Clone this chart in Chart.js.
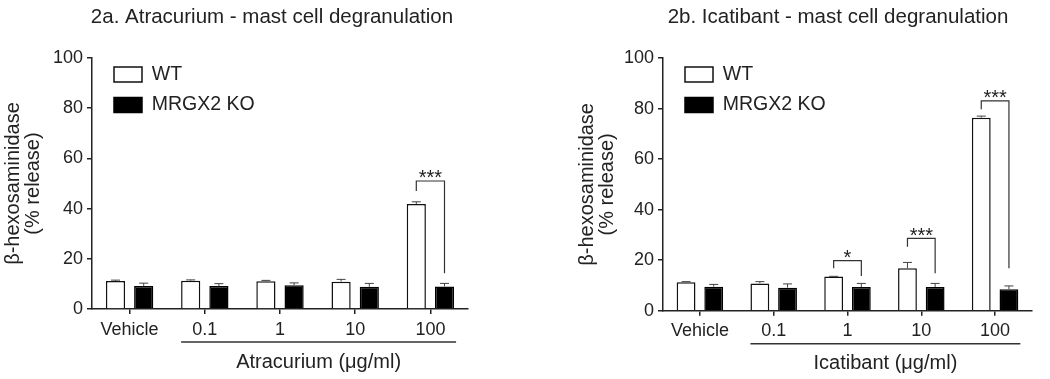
<!DOCTYPE html>
<html><head><meta charset="utf-8">
<script src="https://cdn.jsdelivr.net/npm/chart.js@4.4.1/dist/chart.umd.min.js"></script>
<style>
html,body{margin:0;padding:0;background:#fff;}
#wrap{position:relative;width:1050px;height:379px;overflow:hidden;}
#c1{position:absolute;left:0;top:0;}
#c2{position:absolute;left:520px;top:0;}
</style></head><body>
<div id="wrap">
<canvas id="c1" width="520" height="379"></canvas>
<canvas id="c2" width="530" height="379"></canvas>
</div>
<script>
// ---------- data ----------
const categories = ['Vehicle', '0.1', '1', '10', '100'];
const seriesNames = ['WT', 'MRGX2 KO'];
const yTickStep = 20;
const yMin = 0, yMax = 100;

const atrTitle = '2a. Atracurium - mast cell degranulation';
const atrXTitle = 'Atracurium (\u03BCg/ml)';
const atrWT = [11.2, 11.3, 11.1, 10.9, 41.8];
const atrWTErr = [0.3, 0.3, 0.3, 0.9, 0.9];
const atrKO = [9.2, 9.2, 9.5, 8.9, 9.0];
const atrKOErr = [1.1, 0.9, 0.9, 1.3, 1.2];
const atrSigCat = [4];
const atrSigLevel = [51.0];
const atrSigLeft = [47.0];
const atrSigRight = [14.2];
const atrSigText = ['***'];

const icaTitle = '2b. Icatibant - mast cell degranulation';
const icaXTitle = 'Icatibant (\u03BCg/ml)';
const icaWT = [11.3, 10.8, 13.5, 16.8, 76.4];
const icaWTErr = [0.2, 0.7, 0.1, 2.3, 0.6];
const icaKO = [9.5, 9.1, 9.4, 9.4, 8.5];
const icaKOErr = [0.9, 1.5, 1.4, 1.4, 1.3];
const icaSigCat = [2, 3, 4];
const icaSigLevel = [19.8, 28.6, 83.0];
const icaSigLeft = [16.8, 25.3, 79.7];
const icaSigRight = [13.7, 14.8, 16.8];
const icaSigText = ['*', '***', '***'];

const yTitle = ['\u03B2-hexosaminidase', '(% release)'];

// ---------- styling ----------
const FONT = "'Liberation Sans', Arial, sans-serif";
const INK = '#222';

function makePlugin(p) {
  return {
    id: 'annot',
    afterLayout(chart) {
      const l = chart.legend, a = chart.chartArea;
      if (l) {
        const w = l.width, h = l.height;
        l.left = a.left + 11; l.right = l.left + w;
        l.top = a.top - 4.25; l.bottom = l.top + h;
      }
      const t = chart.titleBlock;
      if (t) { t.left += p.titleShift; t.right += p.titleShift; }
    },
    afterDraw(chart) {
      const ctx = chart.ctx, ys = chart.scales.y, a = chart.chartArea;
      const mWT = chart.getDatasetMeta(0), mKO = chart.getDatasetMeta(1);
      ctx.save();
      // error bars
      [[mWT, p.wt, p.wtErr], [mKO, p.ko, p.koErr]].forEach(([meta, vals, errs]) => {
        meta.data.forEach((bar, i) => {
          const y0 = ys.getPixelForValue(vals[i]);
          const y1 = ys.getPixelForValue(vals[i] + errs[i]);
          ctx.strokeStyle = '#444'; ctx.lineWidth = 1;
          ctx.beginPath();
          ctx.moveTo(bar.x, y0); ctx.lineTo(bar.x, y1);
          ctx.moveTo(bar.x - 4.5, y1); ctx.lineTo(bar.x + 4.5, y1);
          ctx.stroke();
        });
      });
      // significance brackets
      ctx.strokeStyle = '#333'; ctx.lineWidth = 1.2;
      ctx.fillStyle = INK;
      ctx.font = '20px ' + FONT;
      ctx.textAlign = 'center'; ctx.textBaseline = 'alphabetic';
      p.sigCat.forEach((ci, k) => {
        const xL = mWT.data[ci].x, xR = mKO.data[ci].x;
        const yl = ys.getPixelForValue(p.sigLevel[k]);
        ctx.beginPath();
        ctx.moveTo(xL, ys.getPixelForValue(p.sigLeft[k]));
        ctx.lineTo(xL, yl); ctx.lineTo(xR, yl);
        ctx.lineTo(xR, ys.getPixelForValue(p.sigRight[k]));
        ctx.stroke();
        ctx.fillText(p.sigText[k], (xL + xR) / 2, yl + 3.5);
      });
      // group underline
      const b1 = mWT.data[1], b4 = mKO.data[mKO.data.length - 1];
      const ux1 = b1.x - b1.width / 2, ux2 = b4.x + b4.width / 2 + 2;
      const uy = a.bottom + 33;
      ctx.strokeStyle = '#333'; ctx.lineWidth = 1.5;
      ctx.beginPath(); ctx.moveTo(ux1, uy); ctx.lineTo(ux2, uy); ctx.stroke();
      // x title
      ctx.textBaseline = 'middle';
      ctx.fillText(p.xTitle, (ux1 + ux2) / 2, a.bottom + 53);
      ctx.restore();
    }
  };
}

function makeChart(id, p) {
  return new Chart(document.getElementById(id), {
    type: 'bar',
    data: {
      labels: categories,
      datasets: [
        { label: seriesNames[0], data: p.wt, backgroundColor: '#fff', borderColor: '#111', borderWidth: 1.5 },
        { label: seriesNames[1], data: p.ko, backgroundColor: '#000', borderColor: '#000', borderWidth: 1.5 }
      ]
    },
    options: {
      responsive: false,
      animation: false,
      devicePixelRatio: 1,
      categoryPercentage: 0.75,
      barPercentage: 0.68,
      layout: { padding: { left: p.padLeft, right: p.padRight, top: 0, bottom: 0 } },
      plugins: {
        title: {
          display: true, text: p.title, fullSize: false, color: INK,
          font: { family: FONT, size: 20.5, weight: 'normal', lineHeight: 1.2 },
          padding: { top: 5, bottom: 28.4 }
        },
        legend: {
          position: 'chartArea', align: 'start',
          labels: { boxWidth: 28, boxHeight: 15, padding: 11, color: INK,
                    font: { family: FONT, size: 19.5 } }
        },
        tooltip: { enabled: false }
      },
      scales: {
        x: {
          offset: true,
          grid: { offset: false, drawOnChartArea: false, drawTicks: true, tickLength: 5, color: INK, lineWidth: 1.5 },
          border: { color: INK, width: 1.5 },
          ticks: { color: INK, font: { family: FONT, size: 18 }, padding: 5, maxRotation: 0, autoSkip: false },
          afterFit(s) { s.height = p.xHeight; }
        },
        y: {
          min: yMin, max: yMax,
          grid: { drawOnChartArea: false, drawTicks: true, tickLength: 5, color: INK, lineWidth: 1.5 },
          border: { color: INK, width: 1.5 },
          ticks: { stepSize: yTickStep, color: INK, font: { family: FONT, size: 18 }, padding: 4 },
          title: { display: true, text: yTitle, color: INK,
                   font: { family: FONT, size: 20, lineHeight: 1.0 }, padding: { top: 3, bottom: 0 } },
          afterFit(s) { s.width = p.yWidth; }
        }
      }
    },
    plugins: [makePlugin(p)]
  });
}

makeChart('c1', {
  wt: atrWT, wtErr: atrWTErr, ko: atrKO, koErr: atrKOErr,
  sigCat: atrSigCat, sigLevel: atrSigLevel, sigLeft: atrSigLeft, sigRight: atrSigRight, sigText: atrSigText,
  title: atrTitle, xTitle: atrXTitle, titleShift: -8,
  padLeft: 0, padRight: 52, yWidth: 92, xHeight: 70
});
makeChart('c2', {
  wt: icaWT, wtErr: icaWTErr, ko: icaKO, koErr: icaKOErr,
  sigCat: icaSigCat, sigLevel: icaSigLevel, sigLeft: icaSigLeft, sigRight: icaSigRight, sigText: icaSigText,
  title: icaTitle, xTitle: icaXTitle, titleShift: -9.5,
  padLeft: 54, padRight: 18, yWidth: 89, xHeight: 68.3
});
</script>
</body></html>
